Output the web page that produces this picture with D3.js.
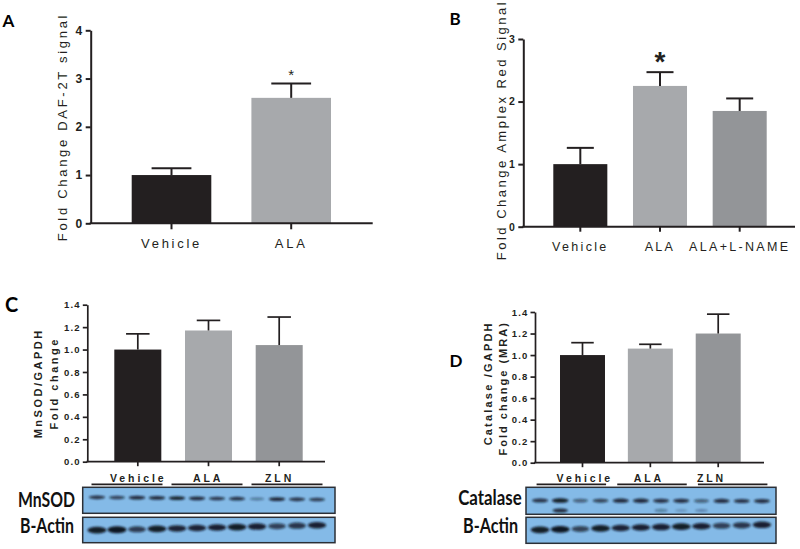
<!DOCTYPE html>
<html><head><meta charset="utf-8">
<script src="https://cdn.jsdelivr.net/npm/d3@7"></script>
<style>body{margin:0;background:#fff}svg{display:block}</style>
</head><body><svg id="c" width="800" height="549"></svg>
<script>
// ---------- data ----------
const groupsA = ["Vehicle", "ALA"];
const meansA = [1.0, 2.6];
const errA = [0.14, 0.30];
const ticksA = [0, 1, 2, 3, 4];

const groupsB = ["Vehicle", "ALA", "ALA+L-NAME"];
const meansB = [1.0, 2.25, 1.85];
const errB = [0.26, 0.22, 0.20];
const ticksB = [0, 1, 2, 3];

const groupsCD = ["Vehicle", "ALA", "ZLN"];
const meansC = [1.0, 1.17, 1.04];
const errC = [0.14, 0.09, 0.25];
const meansD = [1.0, 1.06, 1.20];
const errD = [0.115, 0.04, 0.18];
const ticksCD = [0, 0.2, 0.4, 0.6, 0.8, 1.0, 1.2, 1.4];

// western blot band intensities (12 lanes: 4 Vehicle, 4 ALA, 4 ZLN)
const mnsodBands    = [0.80, 0.72, 0.85, 0.85, 0.92, 0.85, 0.78, 0.80, 0.40, 0.88, 0.80, 0.75];
const actinCBands   = [0.95, 1.00, 0.75, 0.95, 0.88, 0.88, 0.90, 0.95, 0.90, 0.72, 0.78, 0.90];
const catalaseBands = [0.80, 0.95, 0.55, 0.70, 0.85, 0.85, 0.80, 0.82, 0.55, 0.82, 0.80, 0.82];
const catalaseLower = [0.00, 0.85, 0.00, 0.00, 0.00, 0.00, 0.35, 0.20, 0.30, 0.00, 0.00, 0.00];
const actinDBands   = [0.95, 1.00, 0.70, 0.95, 0.88, 0.90, 0.90, 0.95, 0.90, 0.72, 0.78, 0.90];

// ---------- styles ----------
const INK = "#231f20";
const COL_VEH = "#231f20", COL_ALA = "#a7a9ac", COL_THIRD = "#939598";
const svg = d3.select("#c");

const defs = svg.append("defs");
defs.append("filter").attr("id", "blur").attr("x", "-30%").attr("y", "-100%").attr("width", "160%").attr("height", "300%")
  .append("feGaussianBlur").attr("stdDeviation", 0.9);

function barPanel(o) {
  const g = svg.append("g");
  const y = d3.scaleLinear().domain([0, o.yMax]).range([o.y0, o.yTop]);
  const x = d3.scaleBand().domain(o.groups).range(o.barRange).paddingInner(o.pad).paddingOuter(0);
  const bw = x.bandwidth();
  g.selectAll("rect.bar").data(o.means).join("rect").attr("class", "bar")
    .attr("x", (d, i) => x(o.groups[i])).attr("y", d => y(d))
    .attr("width", bw).attr("height", d => y(0) - y(d))
    .attr("fill", (d, i) => o.colors[i]);
  const eb = g.selectAll("g.err").data(o.means).join("g").attr("class", "err")
    .attr("stroke", INK).attr("stroke-width", o.ew);
  eb.append("line").attr("x1", (d, i) => x(o.groups[i]) + bw / 2).attr("x2", (d, i) => x(o.groups[i]) + bw / 2)
    .attr("y1", d => y(d)).attr("y2", (d, i) => y(d + o.errs[i]));
  eb.append("line").attr("x1", (d, i) => x(o.groups[i]) + bw / 4).attr("x2", (d, i) => x(o.groups[i]) + bw * 3 / 4)
    .attr("y1", (d, i) => y(d + o.errs[i])).attr("y2", (d, i) => y(d + o.errs[i]));
  const ya = g.append("g").attr("transform", `translate(${o.axisX},0)`)
    .call(d3.axisLeft(y).tickValues(o.ticks).tickFormat(o.fmt).tickSize(o.yTick).tickSizeOuter(0).tickPadding(o.yPad));
  ya.select(".domain").attr("stroke", INK).attr("stroke-width", o.aw);
  ya.selectAll(".tick line").attr("stroke", INK).attr("stroke-width", o.aw);
  ya.selectAll(".tick text").attr("fill", INK).style("font-family", "Liberation Sans, Arial, sans-serif")
    .style("font-weight", "bold").style("font-size", o.yFont + "px").style("letter-spacing", o.yLs + "px");
  g.append("line").attr("x1", o.axisX - o.aw / 2).attr("x2", o.axisEnd).attr("y1", o.y0).attr("y2", o.y0)
    .attr("stroke", INK).attr("stroke-width", o.aw);
  const xa = g.append("g").attr("transform", `translate(0,${o.y0})`)
    .call(d3.axisBottom(x).tickSize(o.xTick).tickSizeOuter(0).tickPadding(o.xPad).tickFormat(o.showX ? (d => d) : (() => "")));
  xa.select(".domain").remove();
  xa.selectAll(".tick line").attr("stroke", INK).attr("stroke-width", o.aw);
  xa.selectAll(".tick text").attr("fill", INK).style("font-family", "Liberation Sans, Arial, sans-serif")
    .style("font-size", o.xFont + "px").style("letter-spacing", o.xLs + "px");
  o.titles.forEach(t => {
    g.append("text").attr("transform", `translate(${t.x},${t.y}) rotate(-90)`)
      .attr("text-anchor", "middle").attr("fill", INK)
      .style("font-family", "Liberation Sans, Arial, sans-serif")
      .style("font-size", t.size + "px").style("font-weight", t.bold ? "bold" : "normal")
      .style("letter-spacing", t.ls + "px").text(t.text);
  });
  return {x, y, g};
}

// Panel A
const pA = barPanel({
  groups: groupsA, means: meansA, errs: errA, colors: [COL_VEH, COL_ALA],
  yMax: 4, y0: 223.3, yTop: 30.3, ticks: ticksA, fmt: d3.format("d"),
  barRange: [131.7, 331], pad: 0.335, axisX: 90.7, axisEnd: 372.7,
  aw: 2, ew: 2, yTick: 5, yPad: 3.5, yFont: 12, yLs: 0,
  xTick: 6, xPad: 9.5, xFont: 13, xLs: 2.7, showX: true,
  titles: [{x: 66.5, y: 127, size: 13, ls: 2.7, text: "Fold Change DAF-2T signal"}]
});
pA.g.append("text").attr("x", pA.x("ALA") + pA.x.bandwidth() / 2).attr("y", pA.y(meansA[1] + errA[1]) - 3)
  .attr("text-anchor", "middle").attr("fill", INK).style("font-family", "Liberation Sans, Arial, sans-serif")
  .style("font-size", "15px").text("*");

// Panel B
const pB = barPanel({
  groups: groupsB, means: meansB, errs: errB, colors: [COL_VEH, COL_ALA, COL_THIRD],
  yMax: 3, y0: 226.7, yTop: 39, ticks: ticksB, fmt: d3.format("d"),
  barRange: [553.3, 766.7], pad: 0.322, axisX: 523.3, axisEnd: 795,
  aw: 2, ew: 2, yTick: 5, yPad: 3.5, yFont: 10.5, yLs: 0,
  xTick: 5, xPad: 10, xFont: 12.5, xLs: 2.3, showX: true,
  titles: [{x: 505.5, y: 130, size: 13, ls: 2.5, text: "Fold Change Amplex Red Signal"}]
});
pB.g.append("text").attr("x", pB.x("ALA") + pB.x.bandwidth() / 2).attr("y", pB.y(meansB[1] + errB[1]) - 1)
  .attr("text-anchor", "middle").attr("fill", INK).style("font-family", "Liberation Sans, Arial, sans-serif")
  .style("font-size", "28px").style("font-weight", "bold").text("*");

// Panel C
barPanel({
  groups: groupsCD, means: meansC, errs: errC, colors: [COL_VEH, COL_ALA, COL_THIRD],
  yMax: 1.4, y0: 461.7, yTop: 304.7, ticks: ticksCD, fmt: d3.format(".1f"),
  barRange: [114.3, 302.7], pad: 0.335, axisX: 87.3, axisEnd: 325,
  aw: 1.7, ew: 1.7, yTick: 4.5, yPad: 2, yFont: 9.5, yLs: 1.2,
  xTick: 4.5, xPad: 3, xFont: 10, xLs: 0, showX: false,
  titles: [{x: 41.5, y: 383.3, size: 11, ls: 2.5, bold: true, text: "MnSOD/GAPDH"},
           {x: 58, y: 383.3, size: 11, ls: 2.5, bold: true, text: "Fold change"}]
});

// Panel D
barPanel({
  groups: groupsCD, means: meansD, errs: errD, colors: [COL_VEH, COL_ALA, COL_THIRD],
  yMax: 1.4, y0: 462.7, yTop: 312, ticks: ticksCD, fmt: d3.format(".1f"),
  barRange: [560, 740.7], pad: 0.337, axisX: 535, axisEnd: 764,
  aw: 1.7, ew: 1.7, yTick: 4.5, yPad: 2, yFont: 9.5, yLs: 1.2,
  xTick: 4.5, xPad: 3, xFont: 10, xLs: 0, showX: false,
  titles: [{x: 491.5, y: 383.3, size: 11, ls: 2.2, bold: true, text: "Catalase /GAPDH"},
           {x: 506.5, y: 388.3, size: 11, ls: 2.0, bold: true, text: "Fold change (MRA)"}]
});

// Panel letters
const letters = [["A", 2.5, 27], ["B", 449.5, 25], ["C", 5, 311.5], ["D", 449.5, 366.7]];
svg.selectAll("text.letter").data(letters).join("text").attr("class", "letter")
  .attr("x", d => d[1]).attr("y", d => d[2]).attr("fill", "#000")
  .style("font-family", "Lato, 'Open Sans', sans-serif").style("font-weight", "bold")
  .style("font-size", d => (d[0] === "C" ? 20 : 17) + "px").text(d => d[0]);

// ---------- western blots ----------
function blot(o) {
  const g = svg.append("g");
  const lane = d3.scaleBand().domain(d3.range(12)).range(o.laneRange);
  const lw = lane.bandwidth();
  groupsCD.forEach((name, gi) => {
    const x1 = lane(gi * 4) + lw / 2 - o.ulPad[0];
    const x2 = lane(gi * 4 + 3) + lw / 2 + o.ulPad[1];
    g.append("line").attr("x1", x1).attr("x2", x2).attr("y1", o.ulY).attr("y2", o.ulY)
      .attr("stroke", INK).attr("stroke-width", 1.8);
    g.append("text").attr("x", lane(gi * 4) + lw / 2 + o.labOff[gi]).attr("y", o.ulY - 2.8)
      .attr("fill", INK).style("font-family", "Liberation Sans, Arial, sans-serif")
      .style("font-weight", "bold").style("font-size", "10.5px").style("letter-spacing", "2.9px").text(name);
  });
  o.boxes.forEach(b => {
    const bg = g.append("g");
    bg.append("rect").attr("x", o.boxX[0]).attr("y", b.y0).attr("width", o.boxX[1] - o.boxX[0]).attr("height", b.y1 - b.y0)
      .attr("fill", "#84bae7").attr("stroke", "#2b2f36").attr("stroke-width", 1.5);
    b.rows.forEach(r => {
      bg.append("g").attr("filter", "url(#blur)").selectAll("ellipse").data(r.vals).join("ellipse")
        .attr("cx", (d, i) => lane(i) + lw / 2)
        .attr("cy", (d, i) => r.cy + r.slope * i)
        .attr("rx", d => r.rx * (0.75 + 0.25 * d))
        .attr("ry", d => r.ry * (0.6 + 0.4 * d))
        .attr("fill", "#0c1320").attr("opacity", d => d);
    });
    g.append("text").attr("x", b.labX).attr("y", b.labY).attr("text-anchor", "end").attr("fill", "#111")
      .style("font-family", "Lato, 'Open Sans', sans-serif").style("font-weight", "bold")
      .style("font-size", "20px").attr("textLength", b.labW).attr("lengthAdjust", "spacingAndGlyphs").text(b.label);
  });
}

blot({
  laneRange: [87, 327], ulY: 484.3, ulPad: [5.5, 5.5], labOff: [13, 16, 8],
  boxX: [82.7, 335],
  boxes: [
    {y0: 487.3, y1: 513.3, label: "MnSOD", labX: 75, labY: 506.7, labW: 57,
     rows: [{vals: mnsodBands, cy: 497.3, slope: 0.2, rx: 8.5, ry: 2.0}]},
    {y0: 517.3, y1: 542.7, label: "B-Actin", labX: 74, labY: 533, labW: 54,
     rows: [{vals: actinCBands, cy: 530.2, slope: -0.45, rx: 9.5, ry: 3.4}]}
  ]
});

blot({
  laneRange: [530, 772], ulY: 484.3, ulPad: [3.5, 5.5], labOff: [16.5, 13, -4.5],
  boxX: [526, 776],
  boxes: [
    {y0: 487.3, y1: 514.3, label: "Catalase", labX: 521.7, labY: 505, labW: 63.5,
     rows: [{vals: catalaseBands, cy: 500.5, slope: 0.05, rx: 8.5, ry: 2.3},
            {vals: catalaseLower, cy: 510.5, slope: 0, rx: 8, ry: 2.2}]},
    {y0: 517.3, y1: 543.3, label: "B-Actin", labX: 518, labY: 532.7, labW: 55,
     rows: [{vals: actinDBands, cy: 529.8, slope: -0.45, rx: 9.5, ry: 3.4}]}
  ]
});
</script></body></html>
